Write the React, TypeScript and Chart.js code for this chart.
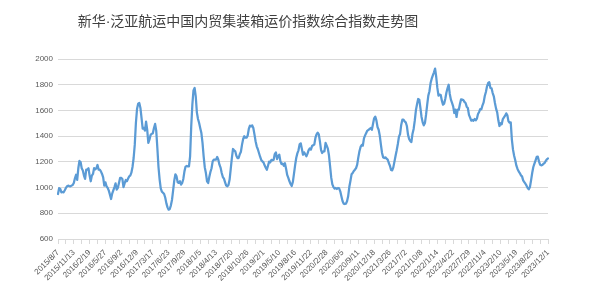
import React, { useEffect, useRef } from "react";
import { Chart, registerables } from "chart.js";

Chart.register(...registerables);

const TITLE = "新华·泛亚航运中国内贸集装箱运价指数综合指数走势图";

// weekly index values, one array per calendar year (first week: 2015/8/7)
const values2015 = [950, 995, 990, 963, 966, 963, 979, 997, 1010, 1015, 1012, 1010, 1015, 1020, 1036, 1072, 1100, 1060, 1150, 1207, 1199];
const values2016 = [1150, 1132, 1093, 1067, 1139, 1139, 1150, 1093, 1049, 1093, 1106, 1152, 1142, 1150, 1176, 1139, 1139, 1126, 1106, 1080, 1015, 1041, 1010, 997, 976, 945, 911, 953, 979, 1004, 1033, 984, 997, 1036, 1075, 1075, 1067, 1004, 1033, 1059, 1049, 1069, 1087, 1093, 1116, 1160, 1230, 1334, 1502, 1611, 1653, 1658, 1619];
const values2017 = [1541, 1458, 1463, 1443, 1513, 1450, 1347, 1373, 1409, 1419, 1422, 1463, 1495, 1443, 1308, 1160, 1064, 994, 968, 960, 950, 921, 877, 846, 828, 833, 862, 906, 981, 1056, 1103, 1087, 1041, 1036, 1049, 1023, 1036, 1067, 1126, 1163, 1168, 1165, 1165, 1243, 1476, 1645, 1756, 1775, 1710, 1585, 1533, 1502];
const values2018 = [1461, 1424, 1347, 1243, 1157, 1113, 1049, 1036, 1082, 1121, 1150, 1204, 1217, 1217, 1217, 1238, 1217, 1178, 1155, 1113, 1082, 1069, 1041, 1015, 1010, 1020, 1062, 1145, 1230, 1300, 1290, 1282, 1248, 1230, 1230, 1259, 1279, 1334, 1378, 1399, 1388, 1388, 1404, 1456, 1482, 1476, 1484, 1463, 1414, 1360, 1321, 1298];
const values2019 = [1269, 1240, 1215, 1204, 1196, 1173, 1155, 1139, 1170, 1202, 1196, 1215, 1212, 1217, 1261, 1274, 1222, 1243, 1256, 1204, 1183, 1186, 1170, 1189, 1147, 1098, 1075, 1049, 1028, 1012, 1043, 1106, 1173, 1230, 1266, 1290, 1336, 1344, 1300, 1256, 1274, 1259, 1243, 1264, 1292, 1305, 1295, 1323, 1329, 1334, 1386, 1414];
const values2020 = [1427, 1414, 1357, 1292, 1269, 1282, 1282, 1347, 1326, 1303, 1251, 1165, 1077, 1025, 1004, 992, 997, 989, 997, 994, 971, 932, 896, 875, 872, 875, 893, 932, 1004, 1051, 1103, 1113, 1129, 1139, 1152, 1178, 1235, 1282, 1316, 1331, 1326, 1383, 1406, 1425, 1443, 1448, 1456, 1463, 1450, 1495, 1539, 1552];
const values2021 = [1523, 1471, 1450, 1404, 1334, 1269, 1235, 1230, 1235, 1225, 1217, 1191, 1170, 1137, 1134, 1157, 1202, 1248, 1290, 1339, 1396, 1417, 1487, 1528, 1528, 1515, 1507, 1479, 1412, 1378, 1362, 1354, 1419, 1456, 1520, 1601, 1648, 1689, 1684, 1619, 1549, 1507, 1484, 1502, 1567, 1645, 1715, 1749, 1813, 1847, 1873, 1896, 1925];
const values2022 = [1860, 1775, 1715, 1723, 1720, 1676, 1645, 1653, 1689, 1738, 1772, 1800, 1728, 1684, 1658, 1632, 1580, 1606, 1549, 1606, 1606, 1650, 1686, 1684, 1681, 1666, 1658, 1629, 1619, 1565, 1544, 1520, 1526, 1520, 1533, 1523, 1536, 1572, 1588, 1611, 1609, 1640, 1663, 1712, 1743, 1788, 1813, 1819, 1775, 1772, 1735, 1710];
const values2023 = [1658, 1614, 1585, 1523, 1479, 1500, 1492, 1533, 1546, 1559, 1577, 1562, 1515, 1505, 1507, 1373, 1295, 1248, 1212, 1170, 1145, 1126, 1113, 1095, 1087, 1056, 1043, 1030, 1015, 997, 986, 1004, 1056, 1113, 1160, 1186, 1212, 1238, 1240, 1204, 1178, 1173, 1176, 1186, 1191, 1207, 1220, 1227];

const VALUES = [
  ...values2015, ...values2016, ...values2017, ...values2018, ...values2019,
  ...values2020, ...values2021, ...values2022, ...values2023,
];

// categories: weekly dates starting 2015/8/7
const START_YEAR = 2015;
const START_MONTH = 8;
const START_DAY = 7;
const CATEGORIES: string[] = VALUES.map((_, i) => {
  const d = new Date(Date.UTC(START_YEAR, START_MONTH - 1, START_DAY + i * 7));
  return `${d.getUTCFullYear()}/${d.getUTCMonth() + 1}/${d.getUTCDate()}`;
});

const LABEL_EVERY = 14;
const TICK_EVERY = 7;

const Y_MIN = 600;
const Y_MAX = 2000;
const Y_STEP = 200;

const titlePlugin = {
  id: "customTitle",
  afterDraw(chart: any) {
    const ctx = chart.ctx;
    ctx.save();
    ctx.font = '14px "Liberation Sans", "Noto Sans CJK SC"';
    ctx.fillStyle = "#404040";
    ctx.textAlign = "center";
    ctx.textBaseline = "middle";
    ctx.fillText(TITLE, 248, 22);
    ctx.restore();
  },
};

export default function App() {
  const ref = useRef<HTMLCanvasElement>(null);
  useEffect(() => {
    document.body.style.margin = "0";
    const chart = new Chart(ref.current as HTMLCanvasElement, {
      type: "line",
      data: {
        labels: CATEGORIES,
        datasets: [
          {
            data: VALUES,
            borderColor: "#5B9BD5",
            borderWidth: 2.25,
            pointRadius: 0,
            tension: 0,
            fill: false,
            borderJoinStyle: "round",
            borderCapStyle: "round",
          },
        ],
      },
      options: {
        responsive: false,
        animation: false,
        devicePixelRatio: 1,
        layout: { padding: { top: 59, right: 52, left: 0, bottom: 0 } },
        plugins: {
          legend: { display: false },
          tooltip: { enabled: false },
          title: { display: false },
        },
        scales: {
          x: {
            type: "category",
            offset: false,
            grid: {
              display: true,
              drawOnChartArea: false,
              drawTicks: true,
              tickLength: 5,
              color: "#D9D9D9",
            },
            border: { display: true, color: "#D9D9D9" },
            ticks: {
              autoSkip: false,
              minRotation: 45,
              maxRotation: 45,
              padding: 4,
              color: "#595959",
              font: { size: 8, family: "Liberation Sans" },
              callback: (_v: any, i: number) =>
                i % LABEL_EVERY === 0 ? CATEGORIES[i] : i % TICK_EVERY === 0 ? "" : null,
            },
            afterFit: (s: any) => {
              s.height = 61;
            },
          },
          y: {
            min: Y_MIN,
            max: Y_MAX,
            ticks: {
              stepSize: Y_STEP,
              padding: 5,
              color: "#595959",
              font: { size: 8, family: "Liberation Sans" },
              callback: (v: any) => String(v),
            },
            grid: { color: "#D9D9D9", drawTicks: false },
            border: { display: false },
            afterFit: (s: any) => {
              s.width = 58;
            },
          },
        },
      },
      plugins: [titlePlugin],
    } as any);
    return () => chart.destroy();
  }, []);
  return (
    <div style={{ width: 600, height: 300 }}>
      <canvas ref={ref} width={600} height={300} style={{ display: "block" }} />
    </div>
  );
}
